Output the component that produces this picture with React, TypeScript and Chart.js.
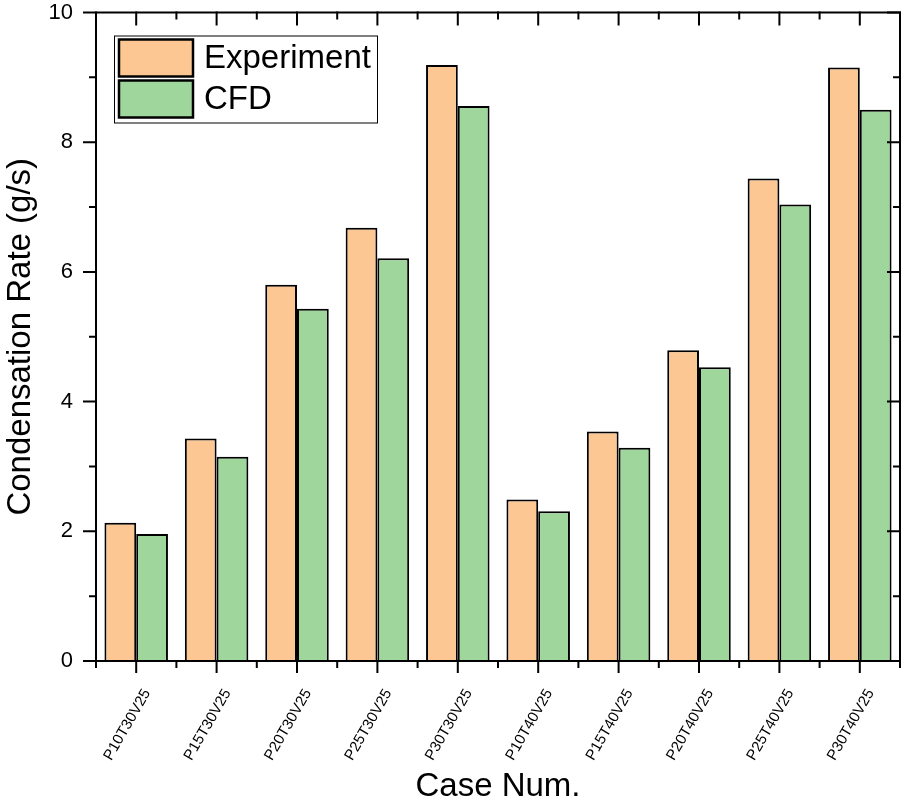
import React, { useEffect, useRef } from "react";
import { Chart, registerables } from "chart.js";

Chart.register(...registerables);

const categories = [
  "P10T30V25",
  "P15T30V25",
  "P20T30V25",
  "P25T30V25",
  "P30T30V25",
  "P10T40V25",
  "P15T40V25",
  "P20T40V25",
  "P25T40V25",
  "P30T40V25",
];
const experiment = [2.13, 3.43, 5.8, 6.68, 9.19, 2.49, 3.54, 4.79, 7.44, 9.15];
const cfd = [1.96, 3.15, 5.43, 6.21, 8.56, 2.31, 3.29, 4.53, 7.04, 8.5];
const yMajorTicks = [0, 2, 4, 6, 8, 10];
const yMinorTicks = [1, 3, 5, 7, 9];

const FONT = "'Liberation Sans', Arial, sans-serif";
const ORANGE = "rgb(252,199,147)";
const GREEN = "rgb(159,214,156)";

const framePlugin = {
  id: "frameTicks",
  afterDraw(chart: any) {
    const { ctx, chartArea } = chart;
    const { left, right, top, bottom } = chartArea;
    const xs = chart.scales.x;
    const ys = chart.scales.y;
    ctx.save();
    ctx.strokeStyle = "#000";
    ctx.lineWidth = 2;
    ctx.lineCap = "square";
    ctx.strokeRect(left, top, right - left, bottom - top);
    const MAJ = 12;
    const MIN = 6;
    ctx.beginPath();
    const n = categories.length;
    const cw = (right - left) / n;
    for (let i = 0; i < n; i++) {
      const px = xs.getPixelForValue(i);
      ctx.moveTo(px, bottom);
      ctx.lineTo(px, bottom + MAJ - 1);
      ctx.moveTo(px, top);
      ctx.lineTo(px, top + MAJ);
    }
    for (let i = 0; i <= n; i++) {
      const px = left + i * cw;
      ctx.moveTo(px, bottom);
      ctx.lineTo(px, bottom + MIN);
      ctx.moveTo(px, top);
      ctx.lineTo(px, top + MIN);
    }
    yMajorTicks.forEach((v) => {
      const py = ys.getPixelForValue(v);
      ctx.moveTo(left, py);
      ctx.lineTo(left - MAJ, py);
      ctx.moveTo(right, py);
      ctx.lineTo(right - MAJ, py);
    });
    yMinorTicks.forEach((v) => {
      const py = ys.getPixelForValue(v);
      ctx.moveTo(left, py);
      ctx.lineTo(left - MIN, py);
      ctx.moveTo(right, py);
      ctx.lineTo(right - MIN, py);
    });
    ctx.stroke();

    // legend
    const lx = left + 18;
    const ly = top + 23;
    const lw = 263;
    const lh = 87;
    ctx.lineWidth = 1;
    ctx.fillStyle = "#fff";
    ctx.fillRect(lx, ly, lw, lh);
    ctx.strokeRect(lx + 0.5, ly + 0.5, lw, lh);
    const items = chart.data.datasets;
    items.forEach((ds: any, i: number) => {
      const sy = ly + 4 + i * 41;
      ctx.fillStyle = ds.backgroundColor;
      ctx.fillRect(lx + 5, sy, 74, 37);
      ctx.lineWidth = 2.5;
      ctx.strokeStyle = "#000";
      ctx.strokeRect(lx + 5, sy, 74, 37);
      ctx.fillStyle = "#000";
      ctx.font = `33px ${FONT}`;
      ctx.textBaseline = "alphabetic";
      ctx.textAlign = "left";
      ctx.fillText(ds.label, lx + 90, sy + 28);
    });
    ctx.restore();
  },
};

export default function App() {
  const ref = useRef<HTMLCanvasElement | null>(null);
  useEffect(() => {
    if (!ref.current) return;
    const chart = new Chart(ref.current, {
      type: "bar",
      data: {
        labels: categories,
        datasets: [
          {
            label: "Experiment",
            data: experiment,
            backgroundColor: ORANGE,
            borderColor: "#000",
            borderWidth: 2,
            categoryPercentage: 0.79,
            barPercentage: 1,
          },
          {
            label: "CFD",
            data: cfd,
            backgroundColor: GREEN,
            borderColor: "#000",
            borderWidth: 2,
            categoryPercentage: 0.79,
            barPercentage: 1,
          },
        ],
      },
      options: {
        responsive: false,
        animation: false,
        events: [],
        layout: { padding: { top: 12.5, right: 17, left: 0, bottom: 0 } },
        plugins: {
          legend: { display: false },
          tooltip: { enabled: false },
        },
        scales: {
          x: {
            grid: { display: false, drawTicks: false },
            border: { display: false },
            ticks: {
              color: "#000",
              font: { family: FONT, size: 15 },
              minRotation: 60,
              maxRotation: 60,
              autoSkip: false,
              padding: 25,
              labelOffset: 11,
            },
            title: {
              display: true,
              text: "Case Num.",
              color: "#000",
              font: { family: FONT, size: 33, lineHeight: 1 },
              padding: { top: 0, bottom: 0 },
            },
            afterFit: (s: any) => {
              s.height = 142;
              s.paddingLeft = 0;
              s.paddingRight = 0;
            },
          },
          y: {
            min: 0,
            max: 10,
            grid: { display: false, drawTicks: false },
            border: { display: false },
            afterBuildTicks: (s: any) => {
              s.ticks = yMajorTicks.map((v) => ({ value: v }));
            },
            ticks: {
              color: "#000",
              font: { family: FONT, size: 22 },
              padding: 23,
            },
            title: {
              display: true,
              text: "Condensation Rate (g/s)",
              color: "#000",
              font: { family: FONT, size: 33, lineHeight: 1 },
              padding: { top: 4, bottom: 0 },
            },
            afterFit: (s: any) => {
              s.width = 96;
              s.paddingTop = 0;
              s.paddingBottom = 0;
            },
          },
        },
      },
      plugins: [framePlugin],
    });
    return () => chart.destroy();
  }, []);
  return (
    <div style={{ position: "fixed", left: 0, top: 0, width: 917, height: 803, background: "#fff" }}>
      <canvas ref={ref} width={917} height={803} style={{ display: "block" }} />
    </div>
  );
}
